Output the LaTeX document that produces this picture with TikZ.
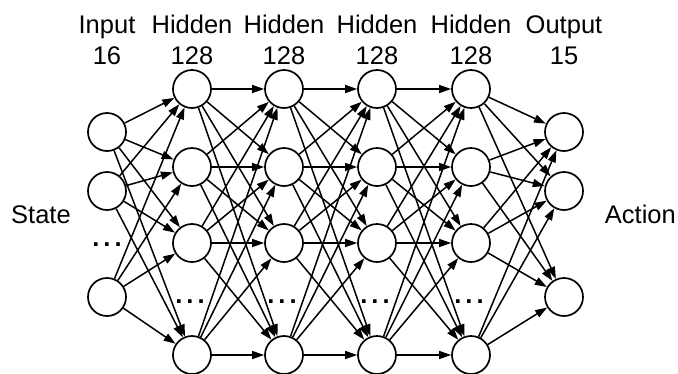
\documentclass[tikz,border=0pt]{standalone}
\usepackage{fontspec}
\setmainfont{Liberation Sans}
\usetikzlibrary{arrows.meta}

\tikzset{
  neuron/.style={circle, draw, line width=1.7pt, minimum size=38pt, inner sep=0pt},
  conn/.style={line width=1.5pt, -{Triangle[length=12pt,width=8pt]}},
  lbl/.style={anchor=base, inner sep=0pt, font=\fontsize{25.5}{30}\selectfont},
  gap/.style={anchor=base, inner sep=0pt, font=\fontsize{25.5}{30}\selectfont\bfseries},
}

\begin{document}
\begin{tikzpicture}[x=1pt,y=-1pt]
    \useasboundingbox (0,0) rectangle (678,373);

    % Layer titles
    \foreach \x/\name/\num [count=\c] in {107/Input/16, 192/Hidden/128, 284/Hidden/128, 377/Hidden/128, 471/Hidden/128, 564/Output/15} {
        \node[lbl] (title\c) at (\x,33) {\name};
        \node[lbl] (size\c) at (\x,64) {\num};
    }

    % Input
    \foreach \y [count=\i] in {132,191,297}
        \node[neuron] (I\i) at (107,\y) {};
    \node[gap] (Idots) at (107,246) {.\kern4pt.\kern4pt.};

    % Hidden
    \foreach \x [count=\l] in {192,284,377,471} {
        \foreach \y [count=\i] in {89,167,243,355}
            \node[neuron] (H\l-\i) at (\x,\y) {};
        \node[gap] (Hdots\l) at (\x-2,303) {.\kern4pt.\kern4pt.};
    }

    % Output
    \foreach \y [count=\i] in {132,191,297}
        \node[neuron] (O\i) at (564,\y) {};

    \node[lbl, anchor=base west] (state) at (11,223) {State};
    \node[lbl, anchor=base east] (action) at (676,223) {Action};

    % Connections
    \foreach \i in {1,2,3}
        \foreach \j in {1,...,4}
            \draw[conn] (I\i) -- (H1-\j);
    \foreach \l [evaluate=\l as \m using int(\l+1)] in {1,2,3}
        \foreach \i in {1,...,4}
            \foreach \j in {1,...,4}
                \draw[conn] (H\l-\i) -- (H\m-\j);
    \foreach \i in {1,...,4}
        \foreach \j in {1,2,3}
            \draw[conn] (H4-\i) -- (O\j);
\end{tikzpicture}
\end{document}
